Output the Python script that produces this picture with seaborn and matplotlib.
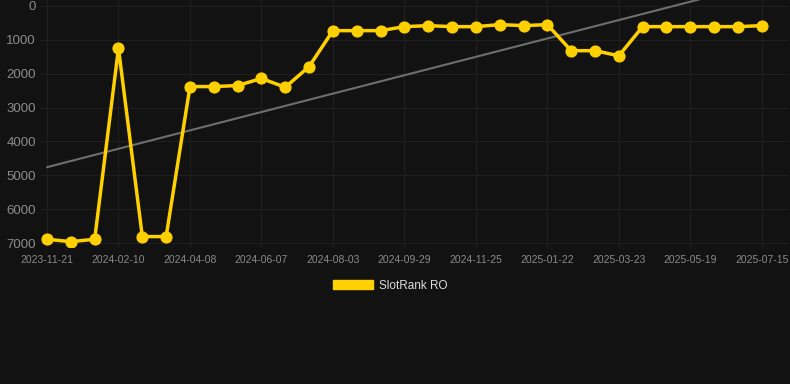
import matplotlib
matplotlib.use("Agg")
import matplotlib.pyplot as plt
import seaborn as sns
import numpy as np
import pandas as pd
from matplotlib.patches import Patch

# valeurs (rang, axe inversé)
rangs = [6890, 6960, 6890, 1250, 6810, 6810, 2380, 2380, 2350, 2140,
         2400, 1790, 728, 728, 728, 610, 580, 610, 610, 550,
         580, 550, 1320, 1320, 1470, 610, 610, 610, 610, 610, 580]
etiquettes_x = ["2023-11-21", "2024-02-10", "2024-04-08", "2024-06-07",
                "2024-08-03", "2024-09-29", "2024-11-25", "2025-01-22",
                "2025-03-23", "2025-05-19", "2025-07-15"]
tendance = [4760, -181]  # debut, pente par point

fond = "#121212"
jaune = "#FFD000"
grille = "#1f1f1f"

sns.set_style("dark", {"axes.facecolor": fond, "figure.facecolor": fond,
                       "grid.color": grille, "axes.edgecolor": fond})
plt.rcParams['font.family'] = ['Liberation Sans', 'DejaVu Sans']

df = pd.DataFrame({"idx": np.arange(len(rangs)), "rang": rangs})

fig = plt.figure(figsize=(7.9, 3.84), dpi=100)
ax = fig.add_axes([40 / 790, 137 / 384, 748 / 790, 247 / 384])

# ligne de tendance
x_t = np.array([0, len(rangs) - 1])
ax.plot(x_t, tendance[0] + tendance[1] * x_t, color="#6e6e6e", lw=1.5, zorder=2)

sns.lineplot(data=df, x="idx", y="rang", ax=ax, color=jaune, lw=2.5,
             marker="o", markersize=8, markeredgecolor=jaune, zorder=3,
             legend=False)

ax.set_xlim(-0.294, 31.1)
ax.set_ylim(7118, -177)
ax.set_yticks(range(0, 7001, 1000))
ax.set_xticks(range(0, len(rangs), 3))
ax.set_xticklabels(etiquettes_x)
ax.grid(True, color=grille, lw=0.8)
ax.tick_params(axis="y", colors="#8c8c8c", labelsize=9.5, length=0, pad=3)
ax.tick_params(axis="x", colors="#8a8a8a", labelsize=7.5, length=0, pad=6)
ax.set_xlabel("")
ax.set_ylabel("")
for s in ax.spines.values():
    s.set_visible(False)

# légende avec rectangle plein
leg = ax.legend(handles=[Patch(color=jaune, label="SlotRank RO")],
                loc="upper center", bbox_to_anchor=(0.468, -0.089), frameon=False,
                handlelength=3.4, handleheight=0.85, handletextpad=0.5, fontsize=8.5)
for t in leg.get_texts():
    t.set_color("#dddddd")

fig.savefig("out.png", dpi=100, facecolor=fond)
